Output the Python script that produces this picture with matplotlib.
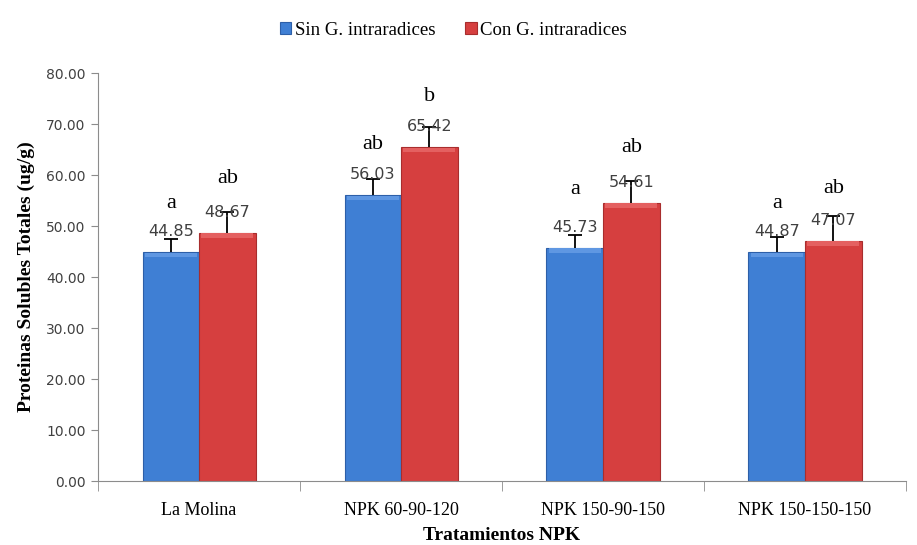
import matplotlib
matplotlib.use("Agg")
import matplotlib.pyplot as plt
import numpy as np

categorias = ["La Molina", "NPK 60-90-120", "NPK 150-90-150", "NPK 150-150-150"]
sin_g = [44.85, 56.03, 45.73, 44.87]
con_g = [48.67, 65.42, 54.61, 47.07]
err_sin = [2.6, 3.1, 2.5, 2.9]
err_con = [4.1, 3.9, 4.3, 4.9]
letras_sin = ["a", "ab", "a", "a"]
letras_con = ["ab", "b", "ab", "ab"]
letras_sin_y = [54.5, 65.9, 57.1, 54.5]
letras_con_y = [59.4, 75.3, 65.3, 57.3]

serif = "Liberation Serif"
azul, azul_claro, azul_borde = "#3f7fd4", "#5f97e2", "#2d5fa8"
rojo, rojo_claro, rojo_borde = "#d63f3f", "#e46060", "#a82d2d"

fig = plt.figure(figsize=(9.17, 5.45), dpi=100)
ax = fig.add_axes([0.107, 0.1174, 0.881, 0.7486])

x = np.arange(len(categorias)) + 0.5
w = 0.28

def barras(pos, vals, errs, color, claro, borde, label):
    vals = np.array(vals)
    errs = np.array(errs)
    ax.bar(pos, vals, w, color=color, edgecolor=borde, linewidth=0.8, label=label, zorder=2)
    # brillo superior (bisel)
    ax.bar(pos, [0.9] * len(vals), w * 0.92, bottom=vals - 1.0,
           color=claro, linewidth=0, zorder=3)
    # barra de error solo hacia arriba
    ax.vlines(pos, vals, vals + errs, color="black", linewidth=1.3, zorder=4)
    ax.plot(pos, vals + errs, ls="none", marker="_", ms=10, mew=1.3,
            color="black", zorder=4)
    for p, v in zip(pos, vals):
        ax.text(p, v + 4.0, f"{v:.2f}", ha="center", va="center",
                fontsize=11.5, color="#404040", family="DejaVu Sans", zorder=5)

barras(x - w / 2, sin_g, err_sin, azul, azul_claro, azul_borde, "Sin G. intraradices")
barras(x + w / 2, con_g, err_con, rojo, rojo_claro, rojo_borde, "Con G. intraradices")

for p, t, y in zip(x - w / 2, letras_sin, letras_sin_y):
    ax.text(p, y, t, ha="center", va="center", fontsize=16, family=serif)
for p, t, y in zip(x + w / 2, letras_con, letras_con_y):
    ax.text(p, y, t, ha="center", va="center", fontsize=16, family=serif)

ax.set_xlim(0, 4)
ax.set_ylim(0, 80)
ax.set_yticks(np.arange(0, 81, 10))
ax.set_yticklabels([f"{v:.2f}" for v in np.arange(0, 81, 10)],
                   fontsize=10, color="#404040", family="DejaVu Sans")
ax.set_xticks(x)
ax.set_xticklabels(categorias, fontsize=13, family=serif)
ax.set_xticks(np.arange(0, 5), minor=True)
ax.tick_params(axis="x", which="major", length=0, pad=15)
ax.tick_params(axis="x", which="minor", length=7, color="#8c8c8c")
ax.tick_params(axis="y", length=5, color="#8c8c8c", pad=4)

for s in ["top", "right"]:
    ax.spines[s].set_visible(False)
for s in ["left", "bottom"]:
    ax.spines[s].set_color("#8c8c8c")

ax.set_ylabel("Proteinas Solubles Totales (ug/g)", fontsize=14,
              fontweight="bold", family=serif, labelpad=8)
ax.set_xlabel("Tratamientos NPK", fontsize=14, fontweight="bold",
              family=serif, labelpad=6)

ax.legend(loc="center", bbox_to_anchor=(0.44, 1.105), ncol=2, frameon=False,
          prop={"family": serif, "size": 13.5}, handlelength=0.6, handleheight=0.6,
          handletextpad=0.2, columnspacing=1.6)

fig.savefig("out.png", dpi=100)
